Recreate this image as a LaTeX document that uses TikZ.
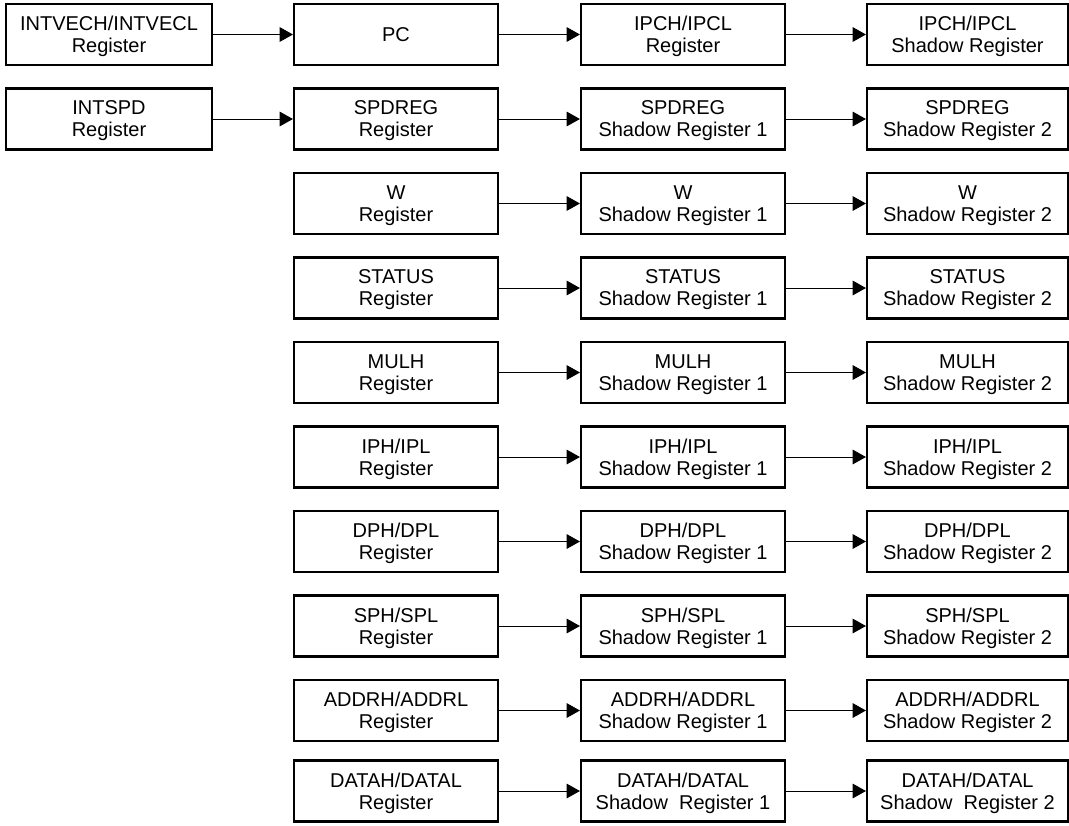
\documentclass[tikz,border=0pt]{standalone}
\usepackage{fontspec}
\setmainfont{Liberation Sans}
\usetikzlibrary{arrows.meta}
\tikzset{
  regbox/.style={draw=black,line width=1.6pt,rectangle,minimum width=153pt,minimum height=45.75pt,
    align=center,inner sep=0pt,text depth=0pt,font=\fontsize{15}{16.5}\selectfont},
  regarrow/.style={-{Triangle[length=10pt,width=11pt]},line width=0.75pt},
}
\begin{document}
\begin{tikzpicture}[x=0.75pt,y=-0.75pt]
\useasboundingbox (0,0) rectangle (1069,825);
% first column
\node[regbox,minimum width=154.5pt] (intvec) at (109,34.5) {INTVECH/INTVECL\\Register};
\node[regbox,minimum width=154.5pt] (intspd) at (109,119) {INTSPD\\Register};
% second column
\node[regbox] (pc) at (396,34.5) {PC};
\node[regbox] (spd) at (396,119) {SPDREG\\Register};
\node[regbox] (w) at (396,203.5) {W\\Register};
\node[regbox] (status) at (396,288) {STATUS\\Register};
\node[regbox] (mulh) at (396,372.5) {MULH\\Register};
\node[regbox] (ip) at (396,457) {IPH/IPL\\Register};
\node[regbox] (dp) at (396,541.5) {DPH/DPL\\Register};
\node[regbox] (sp) at (396,626) {SPH/SPL\\Register};
\node[regbox] (addr) at (396,710.5) {ADDRH/ADDRL\\Register};
\node[regbox] (data) at (396,791) {DATAH/DATAL\\Register};
% shadow register 1
\node[regbox] (ipc) at (683,34.5) {IPCH/IPCL\\Register};
\node[regbox] (spdsha) at (683,119) {SPDREG\\Shadow Register 1};
\node[regbox] (wsha) at (683,203.5) {W\\Shadow Register 1};
\node[regbox] (statussha) at (683,288) {STATUS\\Shadow Register 1};
\node[regbox] (mulhsha) at (683,372.5) {MULH\\Shadow Register 1};
\node[regbox] (ipsha) at (683,457) {IPH/IPL\\Shadow Register 1};
\node[regbox] (dpsha) at (683,541.5) {DPH/DPL\\Shadow Register 1};
\node[regbox] (spsha) at (683,626) {SPH/SPL\\Shadow Register 1};
\node[regbox] (addrsha) at (683,710.5) {ADDRH/ADDRL\\Shadow Register 1};
\node[regbox] (datasha) at (683,791) {DATAH/DATAL\\Shadow\ \ Register 1};
% shadow register 2
\node[regbox,minimum width=150.75pt] (ipcsh) at (967.5,34.5) {IPCH/IPCL\\Shadow Register};
\node[regbox,minimum width=150.75pt] (spdshb) at (967.5,119) {SPDREG\\Shadow Register 2};
\node[regbox,minimum width=150.75pt] (wshb) at (967.5,203.5) {W\\Shadow Register 2};
\node[regbox,minimum width=150.75pt] (statusshb) at (967.5,288) {STATUS\\Shadow Register 2};
\node[regbox,minimum width=150.75pt] (mulhshb) at (967.5,372.5) {MULH\\Shadow Register 2};
\node[regbox,minimum width=150.75pt] (ipshb) at (967.5,457) {IPH/IPL\\Shadow Register 2};
\node[regbox,minimum width=150.75pt] (dpshb) at (967.5,541.5) {DPH/DPL\\Shadow Register 2};
\node[regbox,minimum width=150.75pt] (spshb) at (967.5,626) {SPH/SPL\\Shadow Register 2};
\node[regbox,minimum width=150.75pt] (addrshb) at (967.5,710.5) {ADDRH/ADDRL\\Shadow Register 2};
\node[regbox,minimum width=150.75pt] (datashb) at (967.5,791) {DATAH/DATAL\\Shadow\ \ Register 2};
% arrows
\draw[regarrow] (intvec) -- (pc);
\draw[regarrow] (intspd) -- (spd);
\draw[regarrow] (pc) -- (ipc);
\draw[regarrow] (ipc) -- (ipcsh);
\draw[regarrow] (spd) -- (spdsha);
\draw[regarrow] (spdsha) -- (spdshb);
\draw[regarrow] (w) -- (wsha);
\draw[regarrow] (wsha) -- (wshb);
\draw[regarrow] (status) -- (statussha);
\draw[regarrow] (statussha) -- (statusshb);
\draw[regarrow] (mulh) -- (mulhsha);
\draw[regarrow] (mulhsha) -- (mulhshb);
\draw[regarrow] (ip) -- (ipsha);
\draw[regarrow] (ipsha) -- (ipshb);
\draw[regarrow] (dp) -- (dpsha);
\draw[regarrow] (dpsha) -- (dpshb);
\draw[regarrow] (sp) -- (spsha);
\draw[regarrow] (spsha) -- (spshb);
\draw[regarrow] (addr) -- (addrsha);
\draw[regarrow] (addrsha) -- (addrshb);
\draw[regarrow] (data) -- (datasha);
\draw[regarrow] (datasha) -- (datashb);
\end{tikzpicture}
\end{document}
